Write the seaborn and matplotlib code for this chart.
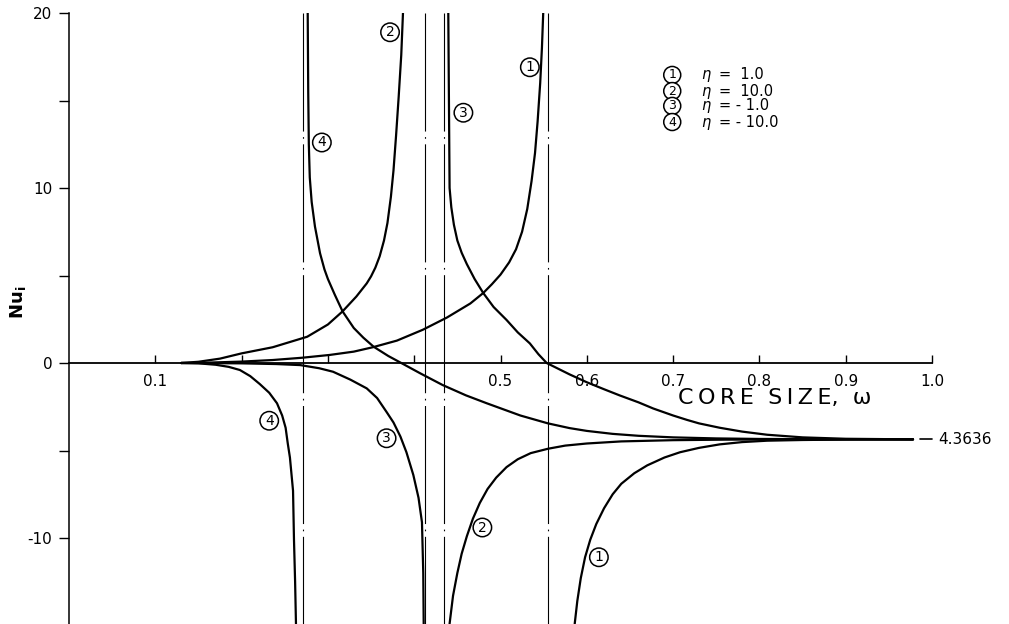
import matplotlib
matplotlib.use("Agg")
import matplotlib.pyplot as plt
import pandas as pd
import seaborn as sns

# Limiting Nusselt number for large core size
NU_INF = -4.3636

# Vertical asymptotes (poles of the Nu_i curves)
POLES = [0.271, 0.4125, 0.4345, 0.555]

CURVE_IDS = ["1", "2", "3", "4"]
ETA_TEXT = ["=  1.0", "=  10.0", "= - 1.0", "= - 10.0"]

X_TICKS = [0.1, 0.2, 0.3, 0.4, 0.5, 0.6, 0.7, 0.8, 0.9, 1.0]
X_TICK_LABELS = ["0.1", "", "", "", "0.5", "0.6", "0.7", "0.8", "0.9", "1.0"]
Y_TICKS = [-10, 0, 10, 20]
Y_TICK_LABELS = ["-10", "0", "10", "20"]
Y_MINOR = [-5, 5, 15]

# eta = 1.0
ETA1_LEFT_X = [0.13, 0.16, 0.20, 0.236, 0.27, 0.302, 0.33, 0.352, 0.38, 0.410,
               0.438, 0.465, 0.480, 0.490, 0.500, 0.510, 0.518, 0.525, 0.531, 0.536,
               0.540, 0.543, 0.546, 0.548, 0.5495]
ETA1_LEFT_Y = [0.0, 0.02, 0.08, 0.17, 0.30, 0.46, 0.65, 0.90, 1.28, 1.9,
               2.6, 3.4, 4.0, 4.5, 5.05, 5.75, 6.5, 7.5, 8.8, 10.4,
               12.0, 13.8, 16.0, 18.0, 20.0]
ETA1_RIGHT_X = [0.586, 0.589, 0.593, 0.598, 0.604, 0.611, 0.620, 0.630, 0.640, 0.655,
                0.670, 0.690, 0.708, 0.730, 0.754, 0.78, 0.809, 0.85, 0.90, 0.978]
ETA1_RIGHT_Y = [-14.9, -13.6, -12.3, -11.1, -10.1, -9.2, -8.3, -7.5, -6.9, -6.3,
                -5.85, -5.4, -5.1, -4.85, -4.65, -4.52, -4.44, -4.40, -4.375, -4.3636]

# eta = 10.0
ETA2_LEFT_X = [0.13, 0.15, 0.175, 0.200, 0.236, 0.276, 0.30, 0.317, 0.333, 0.345,
               0.350, 0.355, 0.360, 0.365, 0.369, 0.373, 0.376, 0.379, 0.382, 0.385,
               0.387]
ETA2_LEFT_Y = [0.0, 0.07, 0.25, 0.55, 0.9, 1.5, 2.2, 2.95, 3.8, 4.55,
               4.95, 5.45, 6.1, 7.0, 8.0, 9.5, 11.0, 13.0, 15.2, 17.6,
               20.0]
ETA2_RIGHT_X = [0.441, 0.445, 0.450, 0.455, 0.461, 0.468, 0.476, 0.485, 0.495, 0.507,
                0.520, 0.535, 0.555, 0.575, 0.600, 0.640, 0.70, 0.76, 0.82, 0.90,
                0.978]
ETA2_RIGHT_Y = [-14.9, -13.3, -12.0, -10.9, -9.9, -8.9, -8.0, -7.2, -6.55, -5.95,
                -5.5, -5.15, -4.9, -4.72, -4.6, -4.48, -4.41, -4.38, -4.37, -4.365,
                -4.3636]

# eta = -1.0
ETA3_LEFT_X = [0.13, 0.20, 0.24, 0.268, 0.29, 0.306, 0.326, 0.345, 0.357, 0.368,
               0.376, 0.384, 0.391, 0.399, 0.405, 0.409, 0.4105, 0.411]
ETA3_LEFT_Y = [0.0, -0.02, -0.06, -0.12, -0.3, -0.5, -0.95, -1.45, -2.0, -2.8,
               -3.4, -4.2, -5.1, -6.4, -7.7, -9.1, -12.0, -14.9]
ETA3_RIGHT_X = [0.4395, 0.441, 0.443, 0.446, 0.450, 0.455, 0.461, 0.470, 0.480, 0.492,
                0.507, 0.520, 0.534, 0.544, 0.5535, 0.58, 0.60, 0.62, 0.638, 0.66,
                0.677, 0.70, 0.716, 0.73, 0.754, 0.78, 0.809, 0.85, 0.90, 0.978]
ETA3_RIGHT_Y = [20.0, 10.0, 8.9, 7.9, 7.0, 6.3, 5.65, 4.8, 4.0, 3.2,
                2.46, 1.75, 1.12, 0.5, 0.0, -0.65, -1.1, -1.5, -1.85, -2.25,
                -2.6, -3.0, -3.25, -3.45, -3.7, -3.92, -4.1, -4.25, -4.33, -4.3636]

# eta = -10.0
ETA4_LEFT_X = [0.13, 0.15, 0.17, 0.185, 0.198, 0.21, 0.221, 0.232, 0.241, 0.247,
               0.251, 0.2535, 0.256, 0.2596, 0.2607, 0.262, 0.263]
ETA4_LEFT_Y = [0.0, -0.02, -0.1, -0.22, -0.4, -0.75, -1.2, -1.7, -2.3, -3.0,
               -3.7, -4.6, -5.4, -7.3, -10.1, -12.5, -14.9]
ETA4_RIGHT_X = [0.2766, 0.2772, 0.2779, 0.279, 0.2812, 0.285, 0.2909, 0.296, 0.300, 0.308,
                0.317, 0.33, 0.341, 0.353, 0.37, 0.385, 0.407, 0.433, 0.46, 0.484,
                0.523, 0.555, 0.58, 0.60, 0.63, 0.66, 0.70, 0.75, 0.80, 0.90,
                0.978]
ETA4_RIGHT_Y = [20.0, 15.5, 12.5, 10.6, 9.2, 7.8, 6.27, 5.35, 4.8, 3.9,
                2.95, 2.0, 1.45, 0.93, 0.4, 0.0, -0.59, -1.26, -1.85, -2.3,
                -3.0, -3.45, -3.72, -3.88, -4.05, -4.16, -4.25, -4.31, -4.34, -4.36,
                -4.3636]

# Circled curve labels placed beside the branches (omega, Nu)
TAG_IDS = ["1", "2", "3", "4", "4", "3", "2", "1"]
TAG_X = [0.534, 0.372, 0.457, 0.293, 0.232, 0.368, 0.479, 0.614]
TAG_Y = [16.9, 18.9, 14.3, 12.6, -3.3, -4.3, -9.4, -11.1]

branches = [
    ("1L", ETA1_LEFT_X, ETA1_LEFT_Y), ("1R", ETA1_RIGHT_X, ETA1_RIGHT_Y),
    ("2L", ETA2_LEFT_X, ETA2_LEFT_Y), ("2R", ETA2_RIGHT_X, ETA2_RIGHT_Y),
    ("3L", ETA3_LEFT_X, ETA3_LEFT_Y), ("3R", ETA3_RIGHT_X, ETA3_RIGHT_Y),
    ("4L", ETA4_LEFT_X, ETA4_LEFT_Y), ("4R", ETA4_RIGHT_X, ETA4_RIGHT_Y),
]
frames = [pd.DataFrame({"omega": xs, "nu": ys, "branch": name}) for name, xs, ys in branches]
df = pd.concat(frames, ignore_index=True)

sns.set_style("white")
plt.rcParams["font.family"] = ["DejaVu Sans"]
plt.rcParams["lines.scale_dashes"] = False
for key in ["text.color", "axes.labelcolor", "xtick.color", "ytick.color", "axes.edgecolor"]:
    plt.rcParams[key] = "black"

fig = plt.figure(figsize=(10.09, 6.24), dpi=100)
ax = fig.add_axes([69 / 1009, -1.5 / 624, 1.088 * 863 / 1009, 612.5 / 624])
ax.set_xlim(0, 1.088)
ax.set_ylim(-15, 20)

sns.lineplot(data=df, x="omega", y="nu", units="branch", estimator=None, sort=False,
             color="black", linewidth=1.6, legend=False, ax=ax)

# dash-dot asymptotes, drawn from the top down
for p in POLES:
    ax.plot([p, p], [20, -15], color="black", linewidth=0.8,
            linestyle=(0, (85, 4, 1.2, 4)), zorder=1)

# leader to the limiting value
ax.plot([0.986, 1.0], [NU_INF, NU_INF], color="black", linewidth=1.2)
ax.text(1.007, NU_INF, f"{abs(NU_INF):.4f}", va="center", ha="left", fontsize=11)

# axes styling
for side in ["top", "right"]:
    ax.spines[side].set_visible(False)
ax.spines["left"].set_linewidth(1.1)
ax.spines["left"].set_bounds(-15, 20)
ax.spines["bottom"].set_position(("data", 0))
ax.spines["bottom"].set_bounds(0, 1.0)
ax.spines["bottom"].set_linewidth(1.3)

ax.set_xticks(X_TICKS)
ax.set_xticklabels(X_TICK_LABELS, fontsize=11)
ax.tick_params(axis="x", direction="in", length=6, width=1.0, pad=8, bottom=True)
ax.set_yticks(Y_TICKS)
ax.set_yticklabels(Y_TICK_LABELS, fontsize=11)
ax.set_yticks(Y_MINOR, minor=True)
ax.tick_params(axis="y", which="both", direction="out", length=7, width=1.0, left=True, pad=5)
ax.set_xlabel("")
ax.set_ylabel("")

fig.text(18 / 1009, 1 - 302 / 624, r"Nu$_\mathregular{i}$", rotation=90, ha="center",
         va="center", fontsize=13, fontweight="bold")
ax.text(0.818, -2.0, "C\u2009O\u2009R\u2009E  S\u2009I\u2009Z\u2009E,  ω", ha="center",
        va="center", fontsize=16)


def circled(x, y, tag, size=10):
    ax.text(x, y, tag, ha="center", va="center", fontsize=size, zorder=5,
            bbox=dict(boxstyle="circle,pad=0.16", fc="white", ec="black", lw=1.1))


for tag, tx, ty in zip(TAG_IDS, TAG_X, TAG_Y):
    circled(tx, ty, tag)

# key
LEGEND_Y = [16.46, 15.54, 14.69, 13.77]
for cid, txt, ly in zip(CURVE_IDS, ETA_TEXT, LEGEND_Y):
    circled(0.699, ly, cid, size=9)
    ax.text(0.738, ly, "η", ha="center", va="center", fontsize=10.5, style="italic")
    ax.text(0.753, ly, txt, ha="left", va="center", fontsize=10.5)

fig.savefig("out.png", dpi=100)
